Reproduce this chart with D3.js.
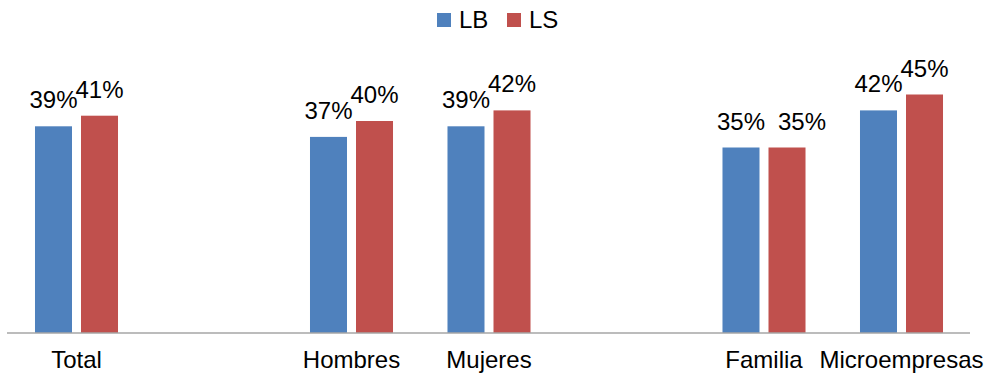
<!DOCTYPE html>
<html>
<head>
<meta charset="utf-8">
<script src="https://cdn.jsdelivr.net/npm/d3@7"></script>
<style>
  html, body { margin: 0; padding: 0; background: #fff; }
  svg { display: block; font-family: "Liberation Sans", Arial, sans-serif; }
</style>
</head>
<body>
<svg id="chart" width="986" height="375"></svg>
<script>
// ---- data ----
const categories = ["Total", "", "Hombres", "Mujeres", "", "Familia", "Microempresas"];
const seriesNames = ["LB", "LS"];
const valuesLB = [0.39, null, 0.37, 0.39, null, 0.35, 0.42];
const valuesLS = [0.41, null, 0.40, 0.42, null, 0.35, 0.45];
const seriesColors = ["#4F81BD", "#C0504D"];

// ---- layout ----
const svg = d3.select("#chart");
const baseY = 333, topY = 15;
const x0 = d3.scaleBand().domain(d3.range(categories.length)).range([7.75, 970.25]).paddingInner(0).paddingOuter(0);
const x1 = d3.scaleBand().domain(seriesNames).range([0, x0.bandwidth()]).paddingInner(9 / 46).paddingOuter(0.592);
const y = d3.scaleLinear().domain([0, 0.6]).range([baseY, topY]);
const fmt = d3.format(".0%");

const rows = [];
categories.forEach((c, i) => {
  [valuesLB, valuesLS].forEach((arr, s) => {
    if (arr[i] != null) rows.push({ i, s, name: seriesNames[s], v: arr[i] });
  });
});

// bars
svg.append("g").selectAll("rect").data(rows).join("rect")
  .attr("x", d => x0(d.i) + x1(d.name))
  .attr("width", x1.bandwidth())
  .attr("y", d => y(d.v))
  .attr("height", d => baseY - y(d.v))
  .attr("fill", d => seriesColors[d.s]);

// data labels (Excel nudged the second identical label to the right)
const nudge = (d) => (categories[d.i] === "Familia" && d.s === 1) ? 15 : 0;
svg.append("g").selectAll("text").data(rows).join("text")
  .attr("x", d => x0(d.i) + x1(d.name) + x1.bandwidth() / 2 + nudge(d))
  .attr("y", d => y(d.v) - 18)
  .attr("text-anchor", "middle")
  .attr("font-size", 24)
  .attr("fill", "#000")
  .text(d => fmt(d.v));

// x axis
const ax = svg.append("g").attr("transform", `translate(0,${baseY})`)
  .call(d3.axisBottom(x0).tickSize(0).tickFormat(i => categories[i]));
ax.select(".domain").attr("stroke", "#a6a6a6").attr("stroke-width", 1.5).attr("d", "M7,0H970");
ax.selectAll(".tick text")
  .attr("y", 35).attr("dy", 0)
  .attr("font-size", 24)
  .attr("font-family", "'Liberation Sans', Arial, sans-serif")
  .attr("fill", "#000");

// legend
const legend = svg.append("g");
const legendX = [437, 507];
seriesNames.forEach((n, s) => {
  legend.append("rect").attr("x", legendX[s]).attr("y", 13).attr("width", 14).attr("height", 14).attr("fill", seriesColors[s]);
  legend.append("text").attr("x", legendX[s] + 22).attr("y", 28).attr("font-size", 24).attr("fill", "#000").text(n);
});
</script>
</body>
</html>
